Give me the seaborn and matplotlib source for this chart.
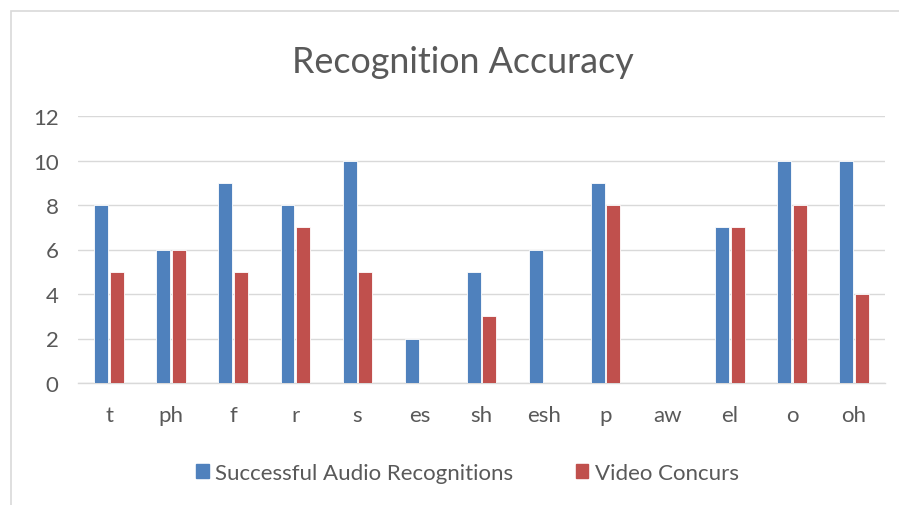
import matplotlib.pyplot as plt
import matplotlib.patches as mpatches
import seaborn as sns
import pandas as pd

phonemes = ["t", "ph", "f", "r", "s", "es", "sh", "esh", "p", "aw", "el", "o", "oh"]
audio = [8, 6, 9, 8, 10, 2, 5, 6, 9, 0, 7, 10, 10]
video = [5, 6, 5, 7, 5, 0, 3, 0, 8, 0, 7, 8, 4]
series = ["Successful Audio Recognitions", "Video Concurs"]
colors = ["#4F81BD", "#C0504D"]

df = pd.DataFrame({
    "phoneme": phonemes * 2,
    "value": audio + video,
    "series": [series[0]] * len(phonemes) + [series[1]] * len(phonemes),
})

sns.set_theme(style="white")
plt.rcParams["font.family"] = ["Lato", "DejaVu Sans"]

fig = plt.figure(figsize=(8.99, 5.06), dpi=100)
ax = fig.add_axes([78 / 899, 1 - 384 / 506, (885 - 78) / 899, (384 - 117) / 506])

sns.barplot(data=df, x="phoneme", y="value", hue="series", palette=colors,
            saturation=1, width=0.5, gap=0.1, order=phonemes, hue_order=series,
            edgecolor="white", linewidth=0.6, ax=ax, legend=False, zorder=3)

ax.set_ylim(0, 12)
ax.set_yticks(range(0, 13, 2))
ax.set_xlim(-0.5, len(phonemes) - 0.5)
ax.grid(axis="y", color="#D9D9D9", linewidth=1, zorder=0)
for s in ["top", "right", "left"]:
    ax.spines[s].set_visible(False)
ax.spines["bottom"].set_color("#D9D9D9")
ax.spines["bottom"].set_linewidth(1)
ax.set_xlabel("")
ax.set_ylabel("")
ax.tick_params(axis="both", length=0, labelsize=16, labelcolor="#595959")
ax.tick_params(axis="y", pad=14)
ax.tick_params(axis="x", pad=16)

fig.text(0.515, 1 - 63 / 506, "Recognition Accuracy", ha="center", va="center",
         fontsize=25.8, color="#595959")

handles = [mpatches.Patch(color=c, label=s) for c, s in zip(colors, series)]
fig.legend(handles=handles, loc="center", bbox_to_anchor=(0.52, 1 - 474 / 506),
           ncol=2, frameon=False, fontsize=16, handlelength=0.55, handleheight=0.55,
           handletextpad=0.3, columnspacing=2.8, labelcolor="#595959")

fig.patches.append(mpatches.Rectangle((11 / 899, -0.1), 1, 1 - 12 / 506 + 0.1,
                                      transform=fig.transFigure, fill=False,
                                      edgecolor="#D9D9D9", linewidth=1.2))

fig.savefig("out.png", dpi=100)
